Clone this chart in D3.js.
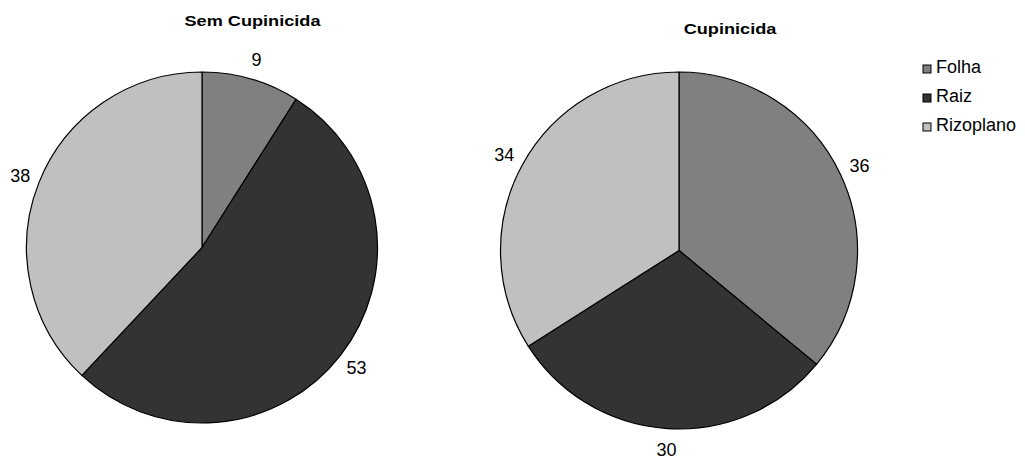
<!DOCTYPE html>
<html><head><meta charset="utf-8">
<script src="https://cdn.jsdelivr.net/npm/d3@7"></script>
<style>body{margin:0;background:#fff}svg{display:block}</style>
</head><body>
<svg id="c" width="1025" height="461"></svg>
<script>
const categories = ["Folha", "Raiz", "Rizoplano"];
const semCupinicida = [9, 53, 38];
const cupinicida = [36, 30, 34];
const titles = ["Sem Cupinicida", "Cupinicida"];
const colors = ["#808080", "#333333", "#c0c0c0"];

const svg = d3.select("#c");
const font = "'Liberation Sans', Arial, sans-serif";
const color = d3.scaleOrdinal().domain(categories).range(colors);

const charts = [
  {values: semCupinicida, title: titles[0], cx: 202, cy: 247.5, r: 175.5, tx: 252.5, ty: 26, lo: 20},
  {values: cupinicida, title: titles[1], cx: 679, cy: 250.5, r: 178.5, tx: 730, ty: 34, lo: 21}
];

const pie = d3.pie().sort(null).value(d => d.v);

charts.forEach(ch => {
  const data = categories.map((c, i) => ({c, v: ch.values[i]}));
  const arcs = pie(data);
  const g = svg.append("g").attr("transform", `translate(${ch.cx},${ch.cy})`);
  const arc = d3.arc().innerRadius(0).outerRadius(ch.r);
  g.selectAll("path").data(arcs).join("path")
    .attr("d", arc)
    .attr("fill", d => color(d.data.c))
    .attr("stroke", "#000").attr("stroke-width", 1.2).attr("stroke-linejoin", "round");
  const lr = ch.r + ch.lo;
  g.selectAll("text").data(arcs).join("text")
    .attr("x", d => Math.sin((d.startAngle + d.endAngle) / 2) * lr)
    .attr("y", d => -Math.cos((d.startAngle + d.endAngle) / 2) * lr)
    .attr("text-anchor", "middle").attr("dy", "0.36em")
    .attr("font-family", font).attr("font-size", 18).attr("fill", "#000")
    .text(d => d.data.v);
  svg.append("text")
    .attr("transform", `translate(${ch.tx},${ch.ty}) scale(1.17,1)`)
    .attr("text-anchor", "middle")
    .attr("font-family", font).attr("font-weight", "bold").attr("font-size", 15.5)
    .attr("fill", "#000").text(ch.title);
});

const leg = svg.append("g").attr("transform", "translate(923,0)");
const ly = d3.scalePoint().domain(categories).range([73, 131]);
categories.forEach(c => {
  leg.append("rect").attr("x", 0).attr("y", ly(c) - 8).attr("width", 8).attr("height", 8)
    .attr("fill", color(c)).attr("stroke", "#000").attr("stroke-width", 1);
  leg.append("text").attr("x", 13).attr("y", ly(c))
    .attr("font-family", font).attr("font-size", 18).attr("fill", "#000").text(c);
});
</script>
</body></html>
